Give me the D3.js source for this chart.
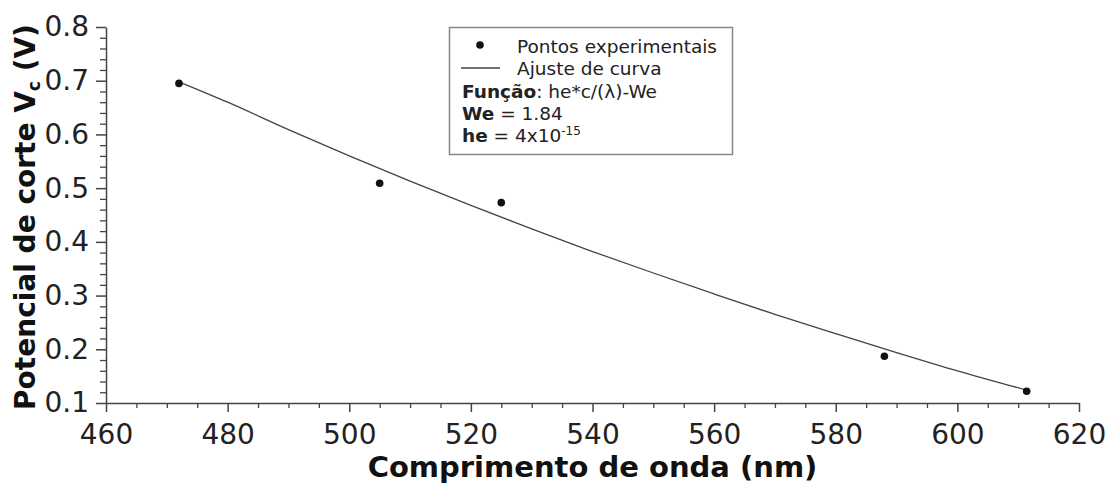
<!DOCTYPE html>
<html>
<head>
<meta charset="utf-8">
<script src="https://cdn.jsdelivr.net/npm/d3@7"></script>
<style>
  body { margin: 0; background: #fff; }
  svg { display: block; font-family: "DejaVu Sans", sans-serif; }
</style>
</head>
<body>
<div id="chart"></div>
<script>
// experimental points
const lambdaPoints = [472, 505, 525, 588, 611.4];
const vcPoints = [0.695, 0.509, 0.473, 0.187, 0.122];

// fitted curve
const lambdaCurve = [472, 480, 490, 500, 510, 520, 530, 540, 550, 560, 570, 580, 590, 600, 611.4];
const vcCurve = [0.698, 0.660, 0.609, 0.560, 0.513, 0.468, 0.424, 0.382, 0.342, 0.303, 0.265, 0.229, 0.194, 0.160, 0.124];

const xTicks = [460, 480, 500, 520, 540, 560, 580, 600, 620];
const yTicks = [0.1, 0.2, 0.3, 0.4, 0.5, 0.6, 0.7, 0.8];

const width = 1114, height = 488;
const svg = d3.select("#chart").append("svg")
  .attr("width", width)
  .attr("height", height);

const x = d3.scaleLinear().domain([460, 620]).range([106, 1079]);
const y = d3.scaleLinear().domain([0.1, 0.8]).range([403, 27]);

const axisColor = "#444";

// minor ticks
const xMinor = d3.range(460, 621, 5).filter((d) => d % 20 !== 0);
const yMinor = d3.range(0, 36).map((i) => 0.1 + i * 0.02).filter((d) => Math.round(d * 100) % 10 !== 0 && d <= 0.8001);

svg.append("g")
  .attr("transform", `translate(0,${y(0.1)})`)
  .call(d3.axisBottom(x).tickValues(xMinor).tickSize(5).tickFormat(""))
  .call((g) => g.select(".domain").remove())
  .call((g) => g.selectAll("line").attr("stroke", axisColor).attr("stroke-width", 1.3));

svg.append("g")
  .attr("transform", `translate(${x(460)},0)`)
  .call(d3.axisLeft(y).tickValues(yMinor).tickSize(6).tickFormat(""))
  .call((g) => g.select(".domain").remove())
  .call((g) => g.selectAll("line").attr("stroke", axisColor).attr("stroke-width", 1.3));

// major axes
const xAxis = svg.append("g")
  .attr("transform", `translate(0,${y(0.1)})`)
  .call(d3.axisBottom(x).tickValues(xTicks).tickSize(9).tickSizeOuter(0).tickPadding(12).tickFormat(d3.format("d")));

const yAxis = svg.append("g")
  .attr("transform", `translate(${x(460)},0)`)
  .call(d3.axisLeft(y).tickValues(yTicks).tickSize(10).tickSizeOuter(0).tickPadding(7).tickFormat(d3.format(".1f")));

[xAxis, yAxis].forEach((g) => {
  g.select(".domain").attr("stroke", axisColor).attr("stroke-width", 1.5);
  g.selectAll("line").attr("stroke", axisColor).attr("stroke-width", 1.5);
  g.selectAll("text")
    .attr("fill", "#222")
    .style("font-family", "DejaVu Sans")
    .style("font-size", "28px");
});

// fitted curve
const line = d3.line()
  .x((d, i) => x(lambdaCurve[i]))
  .y((d) => y(d))
  .curve(d3.curveMonotoneX);

svg.append("path")
  .datum(vcCurve)
  .attr("d", line)
  .attr("fill", "none")
  .attr("stroke", "#444")
  .attr("stroke-width", 1.3);

// points
svg.selectAll(".pt")
  .data(vcPoints)
  .enter()
  .append("circle")
  .attr("class", "pt")
  .attr("cx", (d, i) => x(lambdaPoints[i]))
  .attr("cy", (d) => y(d))
  .attr("r", 3.8)
  .attr("fill", "#111");

// axis titles
svg.append("text")
  .attr("x", (x(460) + x(620)) / 2)
  .attr("y", 477)
  .attr("text-anchor", "middle")
  .style("font-size", "29px")
  .style("font-weight", "bold")
  .attr("fill", "#111")
  .text("Comprimento de onda (nm)");

const yTitle = svg.append("text")
  .attr("transform", `translate(35,${(y(0.1) + y(0.8)) / 2 + 2}) rotate(-90)`)
  .attr("text-anchor", "middle")
  .style("font-size", "28px")
  .style("font-weight", "bold")
  .attr("fill", "#111");
yTitle.append("tspan").text("Potencial de corte V");
yTitle.append("tspan").attr("dy", 5).style("font-size", "17px").text("c");
yTitle.append("tspan").attr("dy", -5).text(" (V)");

// legend
const legend = svg.append("g");
legend.append("rect")
  .attr("x", 449.5)
  .attr("y", 27.5)
  .attr("width", 283)
  .attr("height", 127)
  .attr("fill", "#fff")
  .attr("stroke", "#888")
  .attr("stroke-width", 1.5);

legend.append("circle").attr("cx", 480).attr("cy", 45).attr("r", 3.8).attr("fill", "#111");
legend.append("line")
  .attr("x1", 461).attr("x2", 500)
  .attr("y1", 68).attr("y2", 68)
  .attr("stroke", "#444").attr("stroke-width", 1.3);

const legendText = (yy, xx) => legend.append("text")
  .attr("x", xx)
  .attr("y", yy)
  .style("font-size", "18.5px")
  .attr("fill", "#222");

legendText(52.5, 517).text("Pontos experimentais");
legendText(75, 517).text("Ajuste de curva");

const f = legendText(97.5, 462);
f.append("tspan").style("font-weight", "bold").text("Função");
f.append("tspan").text(": he*c/(λ)-We");

const w = legendText(120, 462);
w.append("tspan").style("font-weight", "bold").text("We");
w.append("tspan").text(" = 1.84");

const h = legendText(141.5, 462);
h.append("tspan").style("font-weight", "bold").text("he");
h.append("tspan").text(" = 4x10");
h.append("tspan").attr("dy", -7).style("font-size", "12px").text("-15");
</script>
</body>
</html>
